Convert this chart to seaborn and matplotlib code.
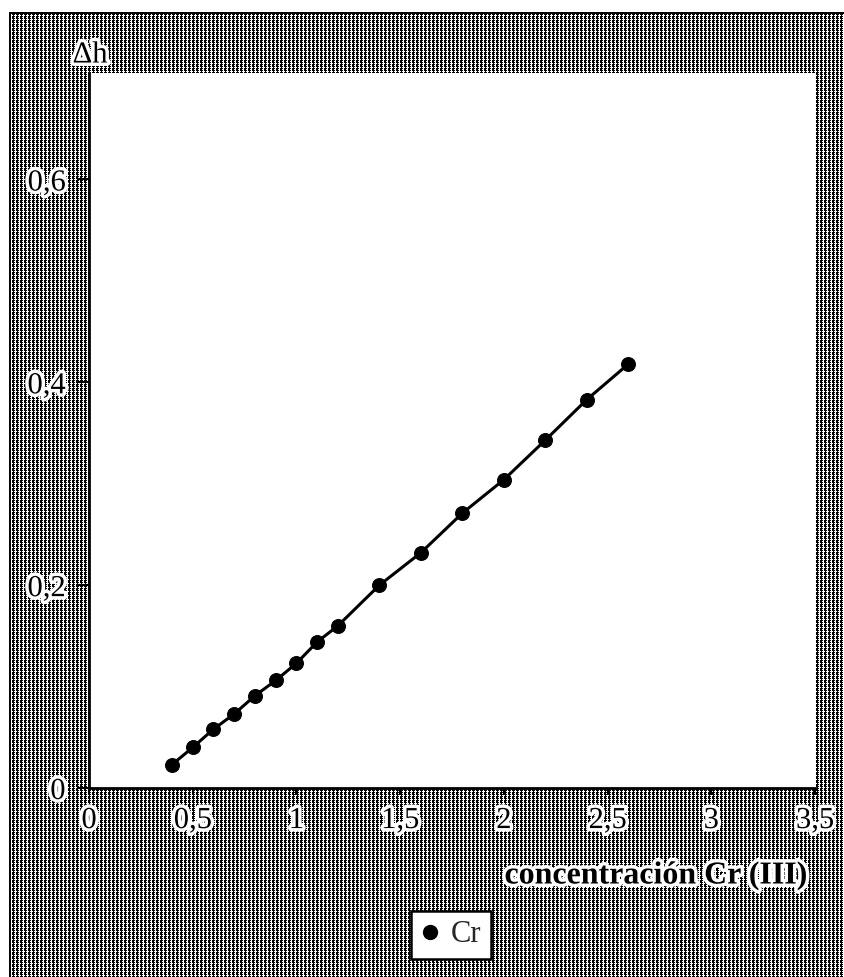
import numpy as np
import pandas as pd
import matplotlib
matplotlib.use("Agg")
import matplotlib.pyplot as plt
import matplotlib.patheffects as pe
from matplotlib.lines import Line2D
import seaborn as sns

# Cr(III) concentration vs. signal change
concentracion = [0.4, 0.5, 0.6, 0.7, 0.8, 0.9, 1.0, 1.1, 1.2, 1.4, 1.6, 1.8, 2.0, 2.2, 2.4, 2.6]
delta_h = [0.023, 0.040, 0.058, 0.073, 0.091, 0.106, 0.123, 0.144, 0.160,
           0.200, 0.232, 0.271, 0.304, 0.343, 0.383, 0.418]
x_ticks = [0, 0.5, 1, 1.5, 2, 2.5, 3, 3.5]
x_ticklabels = ["0", "0,5", "1", "1,5", "2", "2,5", "3", "3,5"]
y_ticks = [0, 0.2, 0.4, 0.6]
y_ticklabels = ["0", "0,2", "0,4", "0,6"]
serie = "Cr"

df = pd.DataFrame({"conc": concentracion, "dh": delta_h})

sns.set_theme(style="ticks")
plt.rcParams["font.family"] = ["Liberation Serif", "DejaVu Serif"]

W, H = 845, 977
fig = plt.figure(figsize=(W / 100, H / 100), dpi=100)
fig.patch.set_facecolor("white")

# halftone-style patterned backdrop
tile = np.ones((4, 4))
for r in range(3):
    for c in range(3):
        tile[r, c] = 0.0
tile[1, 2] = 1.0
tile[3, 1] = 0.0
tex = np.tile(tile, (H // 4 + 1, W // 4 + 1))[:H, :W]
tex[:12, :] = 1.0
tex[:, :9] = 1.0
tex[12:14, 9:] = 0.0
tex[12:, 9:11] = 0.0
fig.figimage(tex, cmap="gray", vmin=0, vmax=1, origin="upper", zorder=-5)

ax = fig.add_axes([89 / W, 1 - 788 / H, (815 - 89) / W, (788 - 73) / H])
ax.set_facecolor("white")

sns.lineplot(data=df, x="conc", y="dh", ax=ax, color="black", linewidth=2.2,
             marker="o", markersize=10, markeredgecolor="black",
             markerfacecolor="black", legend=False)

ax.set_xlim(0, 3.5)
ax.set_ylim(0, 0.705)
ax.set_xticks(x_ticks)
ax.set_xticklabels(x_ticklabels)
ax.set_yticks(y_ticks)
ax.set_yticklabels(y_ticklabels)
ax.set_xlabel("")
ax.set_ylabel("")

for side in ("top", "right"):
    ax.spines[side].set_visible(False)
for side in ("left", "bottom"):
    ax.spines[side].set_color("black")
    ax.spines[side].set_linewidth(2.0)

halo = [pe.withStroke(linewidth=5, foreground="white")]
ax.tick_params(axis="both", direction="out", colors="black", width=1.5,
               labelsize=22, labelcolor="black")
ax.tick_params(axis="x", length=5, pad=8)
ax.tick_params(axis="y", length=8, pad=9)
for lbl in ax.get_xticklabels() + ax.get_yticklabels():
    lbl.set_path_effects(halo)

fig.text(808 / W, 1 - 876 / H, "concentración Cr (III)", ha="right", va="center",
         fontsize=23, fontweight="bold", color="black", path_effects=halo)
fig.text(90 / W, 1 - 55 / H, "Δh", ha="center", va="center",
         fontsize=22, color="black", path_effects=halo)

handle = Line2D([], [], linestyle="none", marker="o", markersize=10,
                color="black", label=serie)
leg = fig.legend(handles=[handle], loc="center", bbox_to_anchor=(451 / W, 1 - 935 / H),
                 frameon=True, fancybox=False, fontsize=22, handlelength=0.6,
                 handletextpad=0.4, borderpad=0.3, framealpha=1)
leg.get_frame().set_edgecolor("black")
leg.get_frame().set_linewidth(1.8)
leg.get_frame().set_facecolor("white")

fig.savefig("out.png", dpi=100)
